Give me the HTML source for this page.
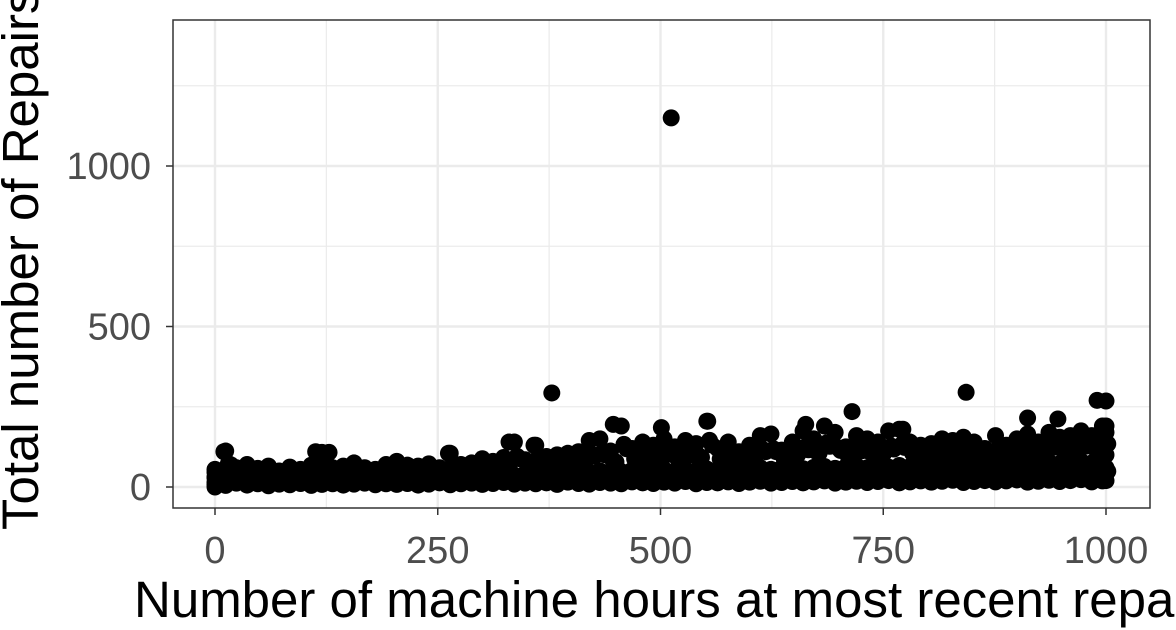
<!DOCTYPE html>
<html><head><meta charset="utf-8"><style>
html,body{margin:0;padding:0;background:#fff;overflow:hidden;}
svg{display:block;font-family:"Liberation Sans",Arial,sans-serif;}
</style></head><body>
<svg id="chart" width="1176" height="630" viewBox="0 0 1176 630">
<g id="grid"></g>
<g id="pts"></g>
<rect x="173" y="20" width="977" height="488" fill="none" stroke="#333" stroke-width="1.5"/>
<g id="axes"></g>
<text x="134" y="617" font-size="51" fill="#000">Number of machine hours at most recent repair</text>
<text transform="translate(38,530) rotate(-90)" font-size="51" fill="#000">Total number of Repairs</text>
</svg>
<script>
const xTicks=[0,250,500,750,1000];
const xMinor=[125,375,625,875];
const yTicks=[0,500,1000];
const yMinor=[250,750,1250];
const hours=[0,12,24,36,48,60,72,84,96,108,120,132,144,156,168,180,192,204,216,228,240,252,264,276,288,300,312,324,336,348,360,372,384,396,408,420,432,444,456,468,480,492,504,516,528,540,552,564,576,588,600,612,624,636,648,660,672,684,696,708,720,732,744,756,768,780,792,804,816,828,840,852,864,876,888,900,912,924,936,948,960,972,984,996];
const repairsLow=[8,5,12,6,10,4,9,7,11,5,8,10,6,9,12,7,10,8,11,6,9,13,7,10,12,8,11,14,9,12,10,13,8,15,11,9,14,12,10,16,13,11,15,12,17,10,14,13,16,11,15,18,12,14,17,13,16,19,12,15,18,14,17,20,13,16,19,15,18,21,14,17,20,16,19,22,15,18,21,17,20,23,16,19];
const repairsMid=[30,25,28,22,35,26,30,24,27,32,29,25,33,28,30,26,34,31,29,35,33,38,30,36,40,34,39,42,37,41,45,38,44,47,42,46,50,44,48,52,47,51,55,49,53,50,56,52,58,54,57,60,55,59,62,57,61,64,58,63,66,60,65,62,67,64,69,66,70,68,72,67,74,70,73,76,71,75,78,73,77,80,75,79];
const repairsHigh=[55,112,60,70,58,65,50,62,55,68,108,60,65,75,60,55,70,80,68,65,72,60,105,70,75,88,80,92,140,85,130,95,100,105,110,145,150,112,190,120,140,130,150,125,145,135,205,120,140,110,130,160,165,115,140,175,150,190,170,125,160,150,140,175,180,140,130,135,150,145,155,140,120,160,130,150,165,140,170,155,160,175,160,190];
const extraHours=[0,0,0,0,1000,1000,1000,1000,1000,1000,1000,990,512,378,843,715,553,447,912,946,501,663,772,10,113,128,262,330,358,6,18,30,42,54,66,78,90];
const extraRepairs=[0,15,30,45,20,40,60,100,170,190,268,270,1150,293,295,235,205,195,215,212,185,195,180,110,110,108,105,140,130,40,35,45,30,50,40,35,45];
const NS="http://www.w3.org/2000/svg";
const X0=173,X1=1150,Y0=20,Y1=508;
const xs=v=>215+v*(1106-215)/1000;
const ys=v=>487-v*(487-166)/1000;
const grid=document.getElementById('grid'),pts=document.getElementById('pts'),axes=document.getElementById('axes');
function mk(tag,attrs,parent){const e=document.createElementNS(NS,tag);for(const k in attrs)e.setAttribute(k,attrs[k]);parent.appendChild(e);return e;}
const bg=mk('rect',{x:X0,y:Y0,width:X1-X0,height:Y1-Y0,fill:'#fff'},grid);


xMinor.forEach(v=>{const l=mk('line',{x1:xs(v),x2:xs(v),y1:Y0,y2:Y1,stroke:'#ebebeb','stroke-width':1.2},grid);

});
yMinor.forEach(v=>{const l=mk('line',{x1:X0,x2:X1,y1:ys(v),y2:ys(v),stroke:'#ebebeb','stroke-width':1.2},grid);

});
xTicks.forEach(v=>{const l=mk('line',{x1:xs(v),x2:xs(v),y1:Y0,y2:Y1,stroke:'#ebebeb','stroke-width':2.4},grid);


const t=mk('line',{x1:xs(v),x2:xs(v),y1:Y1,y2:Y1+7,stroke:'#333','stroke-width':1.5},axes);


const tx=mk('text',{x:xs(v),y:Y1+55,'font-size':38,fill:'#4d4d4d','text-anchor':'middle'},axes);tx.textContent=v;

});
yTicks.forEach(v=>{const l=mk('line',{x1:X0,x2:X1,y1:ys(v),y2:ys(v),stroke:'#ebebeb','stroke-width':2.4},grid);


const t=mk('line',{x1:X0-7,x2:X0,y1:ys(v),y2:ys(v),stroke:'#333','stroke-width':1.5},axes);


const tx=mk('text',{x:X0-22,y:ys(v)+13,'font-size':38,fill:'#4d4d4d','text-anchor':'end'},axes);tx.textContent=v;

});
function dot(h,r){const c=mk('circle',{cx:xs(h),cy:ys(r),r:8.5,fill:'#000'},pts);

}
[repairsLow,repairsMid,repairsHigh].forEach(arr=>{for(let i=0;i<Math.min(hours.length,arr.length);i++)dot(hours[i],arr[i]);});
for(let i=0;i<Math.min(hours.length,repairsLow.length,repairsMid.length);i++){dot(hours[i]+6,(repairsLow[i]+repairsMid[i])/2);}
for(let i=0;i<Math.min(hours.length,repairsMid.length,repairsHigh.length);i++){dot(hours[i]+6,(repairsMid[i]+repairsHigh[i])/2);dot(hours[i]+3,(2*repairsHigh[i]+repairsMid[i])/3-10);}
for(let i=0;i<Math.min(extraHours.length,extraRepairs.length);i++)dot(extraHours[i],extraRepairs[i]);
</script>
</body></html>
